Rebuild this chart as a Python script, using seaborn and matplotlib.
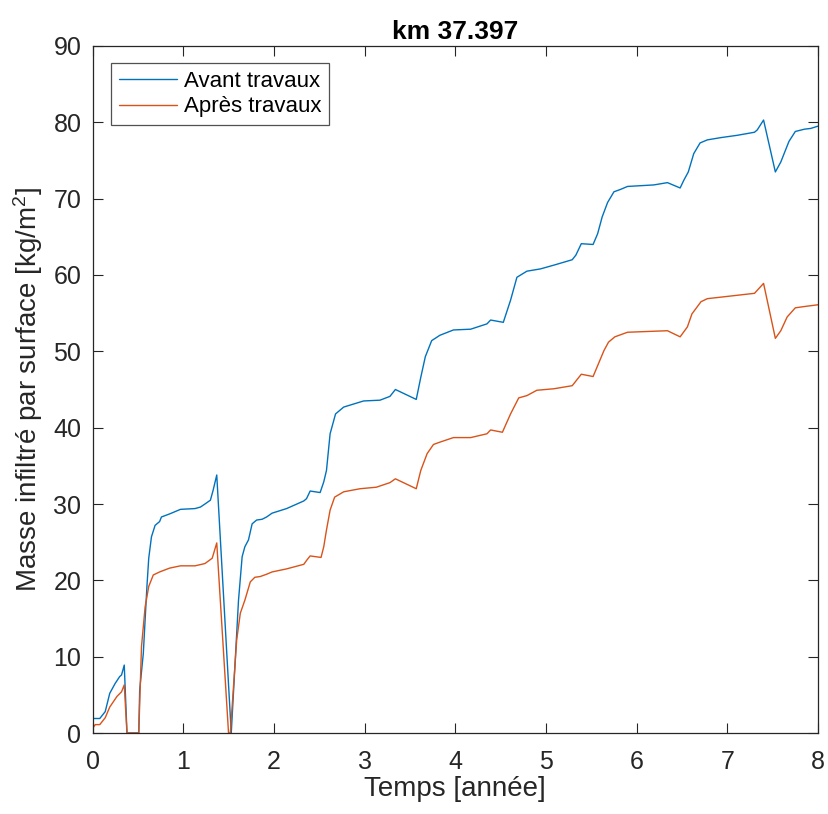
import matplotlib
matplotlib.use("Agg")
import matplotlib.pyplot as plt
import seaborn as sns
import pandas as pd

# ---- data ----
x_avant = [0.00, 0.01, 0.08, 0.14, 0.19, 0.25, 0.30, 0.32, 0.35, 0.38, 0.51, 0.52, 0.56, 0.60,
           0.62, 0.65, 0.69, 0.74, 0.76, 0.85, 0.97, 1.13, 1.19, 1.24, 1.30, 1.33, 1.37, 1.53,
           1.57, 1.61, 1.65, 1.68, 1.72, 1.76, 1.81, 1.87, 1.92, 1.98, 2.14, 2.33, 2.36, 2.40,
           2.51, 2.55, 2.58, 2.62, 2.68, 2.77, 2.99, 3.17, 3.28, 3.34, 3.57, 3.62, 3.67, 3.74,
           3.83, 3.98, 4.17, 4.35, 4.39, 4.53, 4.61, 4.68, 4.79, 4.94, 5.09, 5.29, 5.33, 5.39,
           5.52, 5.57, 5.62, 5.68, 5.75, 5.82, 5.90, 6.19, 6.34, 6.48, 6.52, 6.57, 6.63, 6.70,
           6.78, 6.93, 7.11, 7.30, 7.33, 7.40, 7.53, 7.59, 7.63, 7.68, 7.75, 7.85, 7.92, 8.00]
y_avant = [1.0, 1.9, 1.9, 2.8, 5.2, 6.5, 7.4, 7.6, 8.9, 0.0, 0.0, 5.6, 10.4, 19.2,
           22.9, 25.7, 27.2, 27.7, 28.3, 28.7, 29.3, 29.4, 29.6, 30.0, 30.5, 31.8, 33.8, 0.0,
           8.7, 17.4, 23.1, 24.4, 25.3, 27.4, 27.9, 28.0, 28.3, 28.8, 29.4, 30.4, 30.7, 31.7,
           31.5, 32.9, 34.4, 39.2, 41.8, 42.7, 43.5, 43.6, 44.1, 45.0, 43.7, 46.6, 49.3, 51.4,
           52.1, 52.8, 52.9, 53.6, 54.1, 53.8, 56.7, 59.7, 60.5, 60.8, 61.3, 62.0, 62.6, 64.1,
           64.0, 65.4, 67.6, 69.5, 70.9, 71.2, 71.6, 71.8, 72.1, 71.4, 72.4, 73.5, 75.9, 77.3,
           77.7, 78.0, 78.3, 78.7, 79.0, 80.3, 73.5, 74.8, 76.0, 77.5, 78.8, 79.1, 79.2, 79.5]

x_apres = [0.00, 0.03, 0.08, 0.14, 0.19, 0.27, 0.32, 0.35, 0.38, 0.51, 0.54, 0.58, 0.62, 0.67,
           0.74, 0.85, 0.97, 1.13, 1.24, 1.32, 1.37, 1.50, 1.52, 1.59, 1.63, 1.68, 1.74, 1.79,
           1.85, 1.92, 1.98, 2.14, 2.33, 2.36, 2.40, 2.52, 2.55, 2.58, 2.62, 2.67, 2.77, 2.95,
           3.13, 3.28, 3.34, 3.57, 3.62, 3.69, 3.76, 3.83, 3.98, 4.17, 4.35, 4.39, 4.52, 4.61,
           4.70, 4.79, 4.90, 5.09, 5.29, 5.39, 5.52, 5.58, 5.64, 5.69, 5.76, 5.90, 6.34, 6.48,
           6.56, 6.61, 6.71, 6.78, 6.93, 7.30, 7.40, 7.53, 7.59, 7.66, 7.75, 7.87, 8.00]
y_apres = [0.6, 1.1, 1.1, 2.0, 3.4, 4.8, 5.4, 6.3, 0.0, 0.0, 11.3, 16.5, 19.2, 20.7,
           21.1, 21.6, 21.9, 21.9, 22.2, 22.9, 24.9, 0.0, 0.0, 12.2, 15.7, 17.4, 19.8, 20.4,
           20.5, 20.8, 21.1, 21.5, 22.1, 22.6, 23.2, 23.0, 24.4, 26.6, 29.2, 30.9, 31.6, 32.0,
           32.2, 32.8, 33.3, 32.0, 34.4, 36.6, 37.8, 38.1, 38.7, 38.7, 39.2, 39.7, 39.4, 41.8,
           43.9, 44.2, 44.9, 45.1, 45.5, 47.0, 46.7, 48.4, 50.1, 51.2, 51.9, 52.5, 52.7, 51.9,
           53.2, 54.9, 56.5, 56.9, 57.1, 57.6, 58.9, 51.7, 52.7, 54.5, 55.7, 55.9, 56.1]

series_names = ["Avant travaux", "Après travaux"]
series_colors = ["#0072BD", "#D95319"]
x_ticks = [0, 1, 2, 3, 4, 5, 6, 7, 8]
y_ticks = [0, 10, 20, 30, 40, 50, 60, 70, 80, 90]
title = "km 37.397"
xlabel = "Temps [année]"
ylabel = "Masse infiltré par surface [kg/m$^2$]"

df = pd.concat([
    pd.DataFrame({"t": x_avant, "m": y_avant, "serie": series_names[0]}),
    pd.DataFrame({"t": x_apres, "m": y_apres, "serie": series_names[1]}),
], ignore_index=True)

sns.set_style("ticks")
plt.rcParams["font.family"] = ["Liberation Sans", "DejaVu Sans"]
plt.rcParams["mathtext.fontset"] = "custom"
plt.rcParams["mathtext.rm"] = "Liberation Sans"
plt.rcParams["mathtext.it"] = "Liberation Sans"

fig = plt.figure(figsize=(8.29, 8.14), dpi=100)
ax = fig.add_axes([0.1116, 0.0995, 0.8751, 0.8440])

sns.lineplot(data=df, x="t", y="m", hue="serie", hue_order=series_names,
             palette=series_colors, sort=False, estimator=None, units="serie",
             linewidth=1.0, ax=ax)

edge = "#262626"
ax.set_xlim(0, 8)
ax.set_ylim(0, 90)
ax.set_xticks(x_ticks)
ax.set_yticks(y_ticks)
ax.tick_params(direction="in", length=7, width=0.8, color=edge, labelcolor=edge,
               labelsize=18, top=True, right=True)
ax.tick_params(axis="x", pad=12)
ax.tick_params(axis="y", pad=8)
for s in ax.spines.values():
    s.set_visible(True)
    s.set_color(edge)
    s.set_linewidth(0.9)

ax.set_title(title, fontsize=19, fontweight="bold", color="black", pad=5)
ax.set_xlabel(xlabel, fontsize=20, color=edge, labelpad=2)
ax.set_ylabel(ylabel, fontsize=20, color=edge, labelpad=6)

leg = ax.legend(loc="upper left", bbox_to_anchor=(0.026, 0.975), fontsize=16,
                frameon=True, fancybox=False, handlelength=2.6, handletextpad=0.3,
                borderpad=0.35, labelspacing=0.2, borderaxespad=0)
leg.get_frame().set_edgecolor(edge)
leg.get_frame().set_linewidth(0.9)
for t in leg.get_texts():
    t.set_color("black")

fig.savefig("out.png", dpi=100, facecolor="white")
